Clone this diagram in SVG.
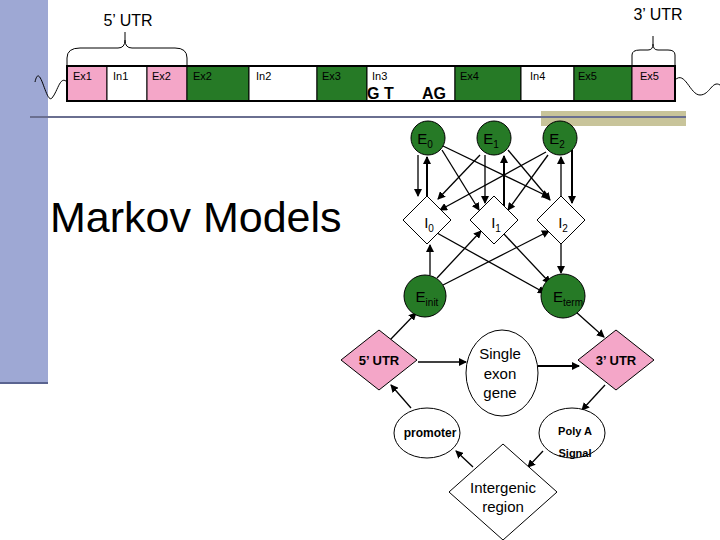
<svg xmlns="http://www.w3.org/2000/svg" width="720" height="540" viewBox="0 0 720 540">
<defs>
<marker id="a" markerWidth="8" markerHeight="8" refX="7" refY="4" orient="auto" markerUnits="userSpaceOnUse"><path d="M0,0 L8,4 L0,8 z" fill="#000"/></marker>
<style>
text{font-family:"Liberation Sans",Arial,sans-serif}
.g{fill:#267a26;stroke:#000}
.p{fill:#f4a6c8;stroke:#000}
.w{fill:#fff;stroke:#000}
.s{font-size:11px}
.n{font-size:15px;text-anchor:middle}
.b{font-weight:bold;font-size:13px;text-anchor:middle}
#c line{stroke:#000;stroke-width:1.3;marker-end:url(#a)}
</style>
</defs>
<rect width="720" height="540" fill="#fff"/>
<rect x="0" y="0" width="48" height="383" fill="#9ea8d4"/>
<line x1="0" y1="383" x2="48" y2="383" stroke="#5a6490" stroke-width="2"/>
<rect x="541" y="111" width="145" height="15" fill="#c8c49a"/>
<line x1="30" y1="117" x2="686" y2="117" stroke="#6a6f90" stroke-width="2"/>
<g id="strip">
<rect x="67" y="66" width="40" height="35" class="p"/>
<rect x="107" y="66" width="40" height="35" class="w"/>
<rect x="147" y="66" width="40" height="35" class="p"/>
<rect x="187" y="66" width="62" height="35" class="g"/>
<rect x="249" y="66" width="68" height="35" class="w"/>
<rect x="317" y="66" width="50" height="35" class="g"/>
<rect x="367" y="66" width="88" height="35" class="w"/>
<rect x="455" y="66" width="66" height="35" class="g"/>
<rect x="521" y="66" width="53" height="35" class="w"/>
<rect x="574" y="66" width="58" height="35" class="g"/>
<rect x="632" y="66" width="43" height="35" class="p"/>
<rect x="67" y="66" width="608" height="35" fill="none" stroke="#000" stroke-width="2"/>
<g class="s">
<text x="73" y="80">Ex1</text><text x="113" y="80">In1</text><text x="152" y="80">Ex2</text>
<text x="193" y="80">Ex2</text><text x="256" y="80">In2</text><text x="322" y="80">Ex3</text>
<text x="372" y="80">In3</text><text x="460" y="80">Ex4</text><text x="530" y="80">In4</text>
<text x="578" y="80">Ex5</text><text x="640" y="80">Ex5</text>
</g>
<text x="367" y="99" font-size="16" font-weight="bold">G T</text><text x="422" y="99" font-size="16" font-weight="bold">AG</text>
<path d="M35,82 C40,60 46,105 52,98 S60,75 67,82" fill="none" stroke="#000"/>
<path d="M675,80 C685,70 690,95 700,95 S712,80 720,85" fill="none" stroke="#000"/>
<path d="M67,66 L67,58 Q67,48 80,48 L118,48 Q125,48 125,40 L125,32 M125,40 Q125,48 132,48 L175,48 Q187,48 187,58 L187,66" fill="none" stroke="#000"/>
<path d="M632,66 L632,55 Q632,50 640,50 L648,50 Q653,50 653,44 L653,36 M653,44 Q653,50 658,50 L668,50 Q675,50 675,55 L675,66" fill="none" stroke="#000"/>
<text x="128" y="26" font-size="16" text-anchor="middle">5’ UTR</text>
<text x="658" y="20" font-size="16" text-anchor="middle">3’ UTR</text>
</g>
<text x="50" y="232" font-size="43">Markov Models</text>
<g id="c">
<line x1="418" y1="155" x2="418" y2="196"/>
<line x1="427" y1="197" x2="427" y2="157" style="stroke-width:2"/>
<line x1="442" y1="150" x2="479" y2="210"/>
<line x1="443" y1="146" x2="549" y2="197"/>
<line x1="480" y1="155" x2="438" y2="199"/>
<line x1="485" y1="155" x2="485" y2="203"/>
<line x1="504" y1="213" x2="504" y2="156" style="stroke-width:2"/>
<line x1="508" y1="150" x2="550" y2="200"/>
<line x1="546" y1="152" x2="440" y2="210"/>
<line x1="548" y1="155" x2="508" y2="210"/>
<line x1="561" y1="197" x2="561" y2="157"/>
<line x1="572" y1="150" x2="572" y2="203" style="stroke-width:2"/>
<line x1="437" y1="233" x2="545" y2="293"/>
<line x1="503" y1="233" x2="550" y2="283"/>
<line x1="561" y1="244" x2="561" y2="273"/>
<line x1="430" y1="275" x2="430" y2="245"/>
<line x1="437" y1="278" x2="481" y2="231"/>
<line x1="443" y1="285" x2="549" y2="231"/>
<line x1="390" y1="340" x2="416" y2="313"/>
<line x1="576" y1="312" x2="604" y2="337"/>
<line x1="418" y1="362" x2="466" y2="362"/>
<line x1="538" y1="366" x2="579" y2="366" style="stroke-width:2"/>
<line x1="605" y1="385" x2="582" y2="410"/>
<line x1="543" y1="451" x2="528" y2="467"/>
<line x1="473" y1="467" x2="456" y2="451"/>
<line x1="411" y1="408" x2="391" y2="385"/>
</g>
<g id="E0"><circle cx="428" cy="138" r="17" class="g"/><text x="425" y="144" class="n">E<tspan font-size="10" dy="4">0</tspan></text></g>
<g id="E1"><circle cx="494" cy="138" r="17" class="g"/><text x="491" y="144" class="n">E<tspan font-size="10" dy="4">1</tspan></text></g>
<g id="E2"><circle cx="560" cy="138" r="17" class="g"/><text x="557" y="144" class="n">E<tspan font-size="10" dy="4">2</tspan></text></g>
<g id="I0"><path d="M427,196 L451,220 L427,244 L403,220 z" class="w"/><text x="429" y="228" class="n">I<tspan font-size="10" dy="4">0</tspan></text></g>
<g id="I1"><path d="M494,196 L518,220 L494,244 L470,220 z" class="w"/><text x="496" y="228" class="n">I<tspan font-size="10" dy="4">1</tspan></text></g>
<g id="I2"><path d="M561,196 L585,220 L561,244 L537,220 z" class="w"/><text x="563" y="228" class="n">I<tspan font-size="10" dy="4">2</tspan></text></g>
<g id="Einit"><circle cx="425" cy="296" r="21" class="g"/><text x="427" y="302" class="n">E<tspan font-size="10" dy="4">init</tspan></text></g>
<g id="Eterm"><circle cx="563" cy="296" r="22" class="g"/><text x="568" y="302" class="n">E<tspan font-size="10" dy="4">term</tspan></text></g>
<g id="utr5"><path d="M379,330 L417,360 L379,390 L341,360 z" class="p"/><text x="379" y="365" class="b">5’ UTR</text></g>
<g id="single"><ellipse cx="502" cy="373" rx="36" ry="43" class="w"/><text x="500" y="359" class="n">Single</text><text x="500" y="379" class="n">exon</text><text x="500" y="398" class="n">gene</text></g>
<g id="utr3"><path d="M616,330 L654,360 L616,390 L578,360 z" class="p"/><text x="616" y="365" class="b">3’ UTR</text></g>
<g id="polya"><ellipse cx="572" cy="433" rx="33" ry="25" class="w"/><text x="575" y="435" font-size="11" text-anchor="middle" font-weight="bold">Poly A</text><text x="575" y="457" font-size="11" text-anchor="middle" font-weight="bold">Signal</text></g>
<g id="promoter"><ellipse cx="427" cy="433" rx="33" ry="25" class="w"/><text x="430" y="437" font-size="12" text-anchor="middle" font-weight="bold">promoter</text></g>
<g id="intergenic"><path d="M503,444 L557,492 L503,540 L449,492 z" class="w"/><text x="503" y="493" class="n">Intergenic</text><text x="503" y="512" class="n">region</text></g>
</svg>
